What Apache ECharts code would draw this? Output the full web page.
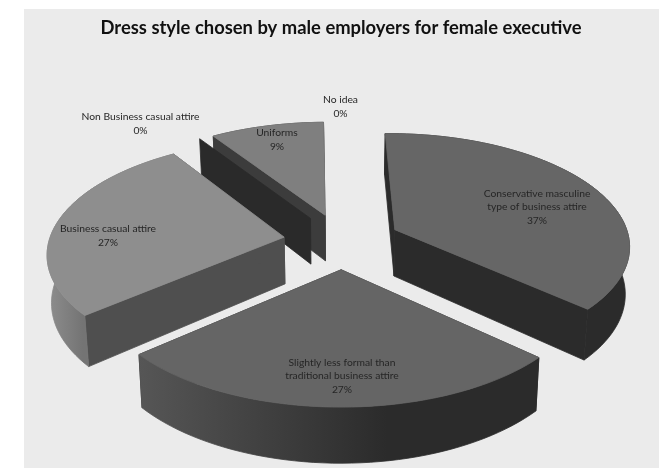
<!DOCTYPE html>
<html>
<head>
<meta charset="utf-8">
<style>html,body{margin:0;padding:0;background:#fff}#chart{width:659px;height:468px}</style>
<script src="https://cdn.jsdelivr.net/npm/echarts@6/dist/echarts.min.js"></script>
</head>
<body>
<div id="chart"></div>
<script>
const titleText = 'Dress style chosen by male employers for female executive';
const categories = [
  'Conservative masculine\ntype of business attire',
  'Slightly less formal than\ntraditional business attire',
  'Business casual attire',
  'Non Business casual attire',
  'Uniforms',
  'No idea'
];
const shares = [37, 27, 27, 0, 9, 0];

// Per-slice colours: top face, radial wall, outer rim (left and right end of a horizontal ramp)
const topColors = ['#666666', '#656565', '#8e8e8e', '#2a2a2a', '#7f7f7f', '#7f7f7f'];
const wallColors = ['#2b2b2b', '#2b2b2b', '#4f4f4f', '#2a2a2a', '#3c3c3c', '#3c3c3c'];
const rimColors = [
  ['#2b2b2b', '#2b2b2b'],
  ['#565656', '#2b2b2b'],
  ['#8e8e8e', '#747474'],
  ['#2a2a2a', '#2a2a2a'],
  ['#3c3c3c', '#3c3c3c'],
  ['#3c3c3c', '#3c3c3c']
];
// Where each rim ramp reaches its right-hand colour, as a share of the rim's width
const rimRampEnds = [0.62, 0.62, 0.28, 0.62, 0.62, 0.62];

// Label anchors in page pixels
const labelAnchors = [[537, 207], [342, 376], [108, 236], [140.5, 124], [277, 140], [340.5, 107]];

// Oblique projection of the pie: a unit disc seen from above with mild perspective
const view = { cx: 342, cy: 241, rx: 235, ry: 111.3, persp: 0.13, depth: 47, shrink: 0.985,
  startDeg: -1, explode: 0.25, arcStepDeg: 2 };

function project(u, v, lowered) {
  const s = 1 / (1 - view.persp * v);
  let x = view.cx + view.rx * u * s;
  let y = view.cy + view.ry * v * s;
  if (lowered) {
    x = view.cx + (x - view.cx) * view.shrink;
    y += view.depth * s;
  }
  return [x, y];
}

const total = shares.reduce((a, b) => a + b, 0);
function sliceAngles(index) {
  let before = 0;
  for (let i = 0; i < index; i++) before += shares[i];
  const a0 = (view.startDeg + before / total * 360) * Math.PI / 180;
  const a1 = a0 + shares[index] / total * 2 * Math.PI;
  return [a0, a1];
}
function sliceOffset(index) {
  const [a0, a1] = sliceAngles(index);
  const mid = (a0 + a1) / 2;
  return [view.explode * Math.sin(mid), -view.explode * Math.cos(mid)];
}

function renderSlice(params, api) {
  const value = api.value(0);
  const i = api.value(1);
  const [a0, a1] = sliceAngles(i);
  const [ou, ov] = sliceOffset(i);
  const rimPoint = (a, low) => project(ou + Math.sin(a), ov - Math.cos(a), low);
  const apex = low => project(ou, ov, low);

  const steps = Math.max(1, Math.ceil((a1 - a0) * 180 / Math.PI / view.arcStepDeg));
  const arc = low => {
    const pts = [];
    for (let k = 0; k <= steps; k++) pts.push(rimPoint(a0 + (a1 - a0) * k / steps, low));
    return pts;
  };
  const wall = a => [apex(false), rimPoint(a, false), rimPoint(a, true), apex(true)];

  // Nearer slices are painted over farther ones
  const rank = shares.map((_, k) => sliceOffset(k)[1]).sort((p, q) => p - q).indexOf(ov);
  const base = 10 + rank * 10;
  const children = [];
  const poly = (points, fill, z) => children.push({
    type: 'polygon', shape: { points }, z2: base + z,
    style: { fill, stroke: fill, lineWidth: 0.8 }, silent: true
  });

  if (value > 0) {
    poly(wall(a0), wallColors[i], 0);
    poly(wall(a1), wallColors[i], 1);
    const ramp = new echarts.graphic.LinearGradient(0, 0, 1, 0, [
      { offset: 0, color: rimColors[i][0] },
      { offset: rimRampEnds[i], color: rimColors[i][1] },
      { offset: 1, color: rimColors[i][1] }
    ]);
    poly(arc(false).concat(arc(true).reverse()), ramp, 2);
    poly([apex(false)].concat(arc(false)), topColors[i], 3);
  } else if (Math.abs(Math.sin(a0)) > 0.1) {
    // A slice with no share only shows as a flat wall, unless it is edge-on
    poly(wall(a0), wallColors[i], 0);
  }

  children.push({
    type: 'text', z2: 200, silent: true,
    style: {
      text: categories[i] + '\n' + Math.round(value) + '%',
      x: labelAnchors[i][0], y: labelAnchors[i][1],
      align: 'center', verticalAlign: 'middle',
      font: '400 10.3px Lato', lineHeight: 13.7, fill: '#262626'
    }
  });
  return { type: 'group', children };
}

const chart = echarts.init(document.getElementById('chart'), null, { renderer: 'canvas' });
chart.setOption({
  animation: false,
  backgroundColor: '#ffffff',
  title: {
    text: titleText, left: 336, top: 14, textAlign: 'center',
    textStyle: { fontFamily: 'Lato', fontWeight: 'bold', fontSize: 18.4, color: '#111111' }
  },
  graphic: [{
    type: 'rect', z: -1, silent: true,
    shape: { x: 24, y: 9, width: 635, height: 459 },
    style: { fill: '#ebebeb' }
  }],
  series: [{
    type: 'custom',
    coordinateSystem: 'none',
    renderItem: renderSlice,
    data: shares.map((v, i) => [v, i]),
    silent: true
  }]
});
</script>
</body>
</html>
